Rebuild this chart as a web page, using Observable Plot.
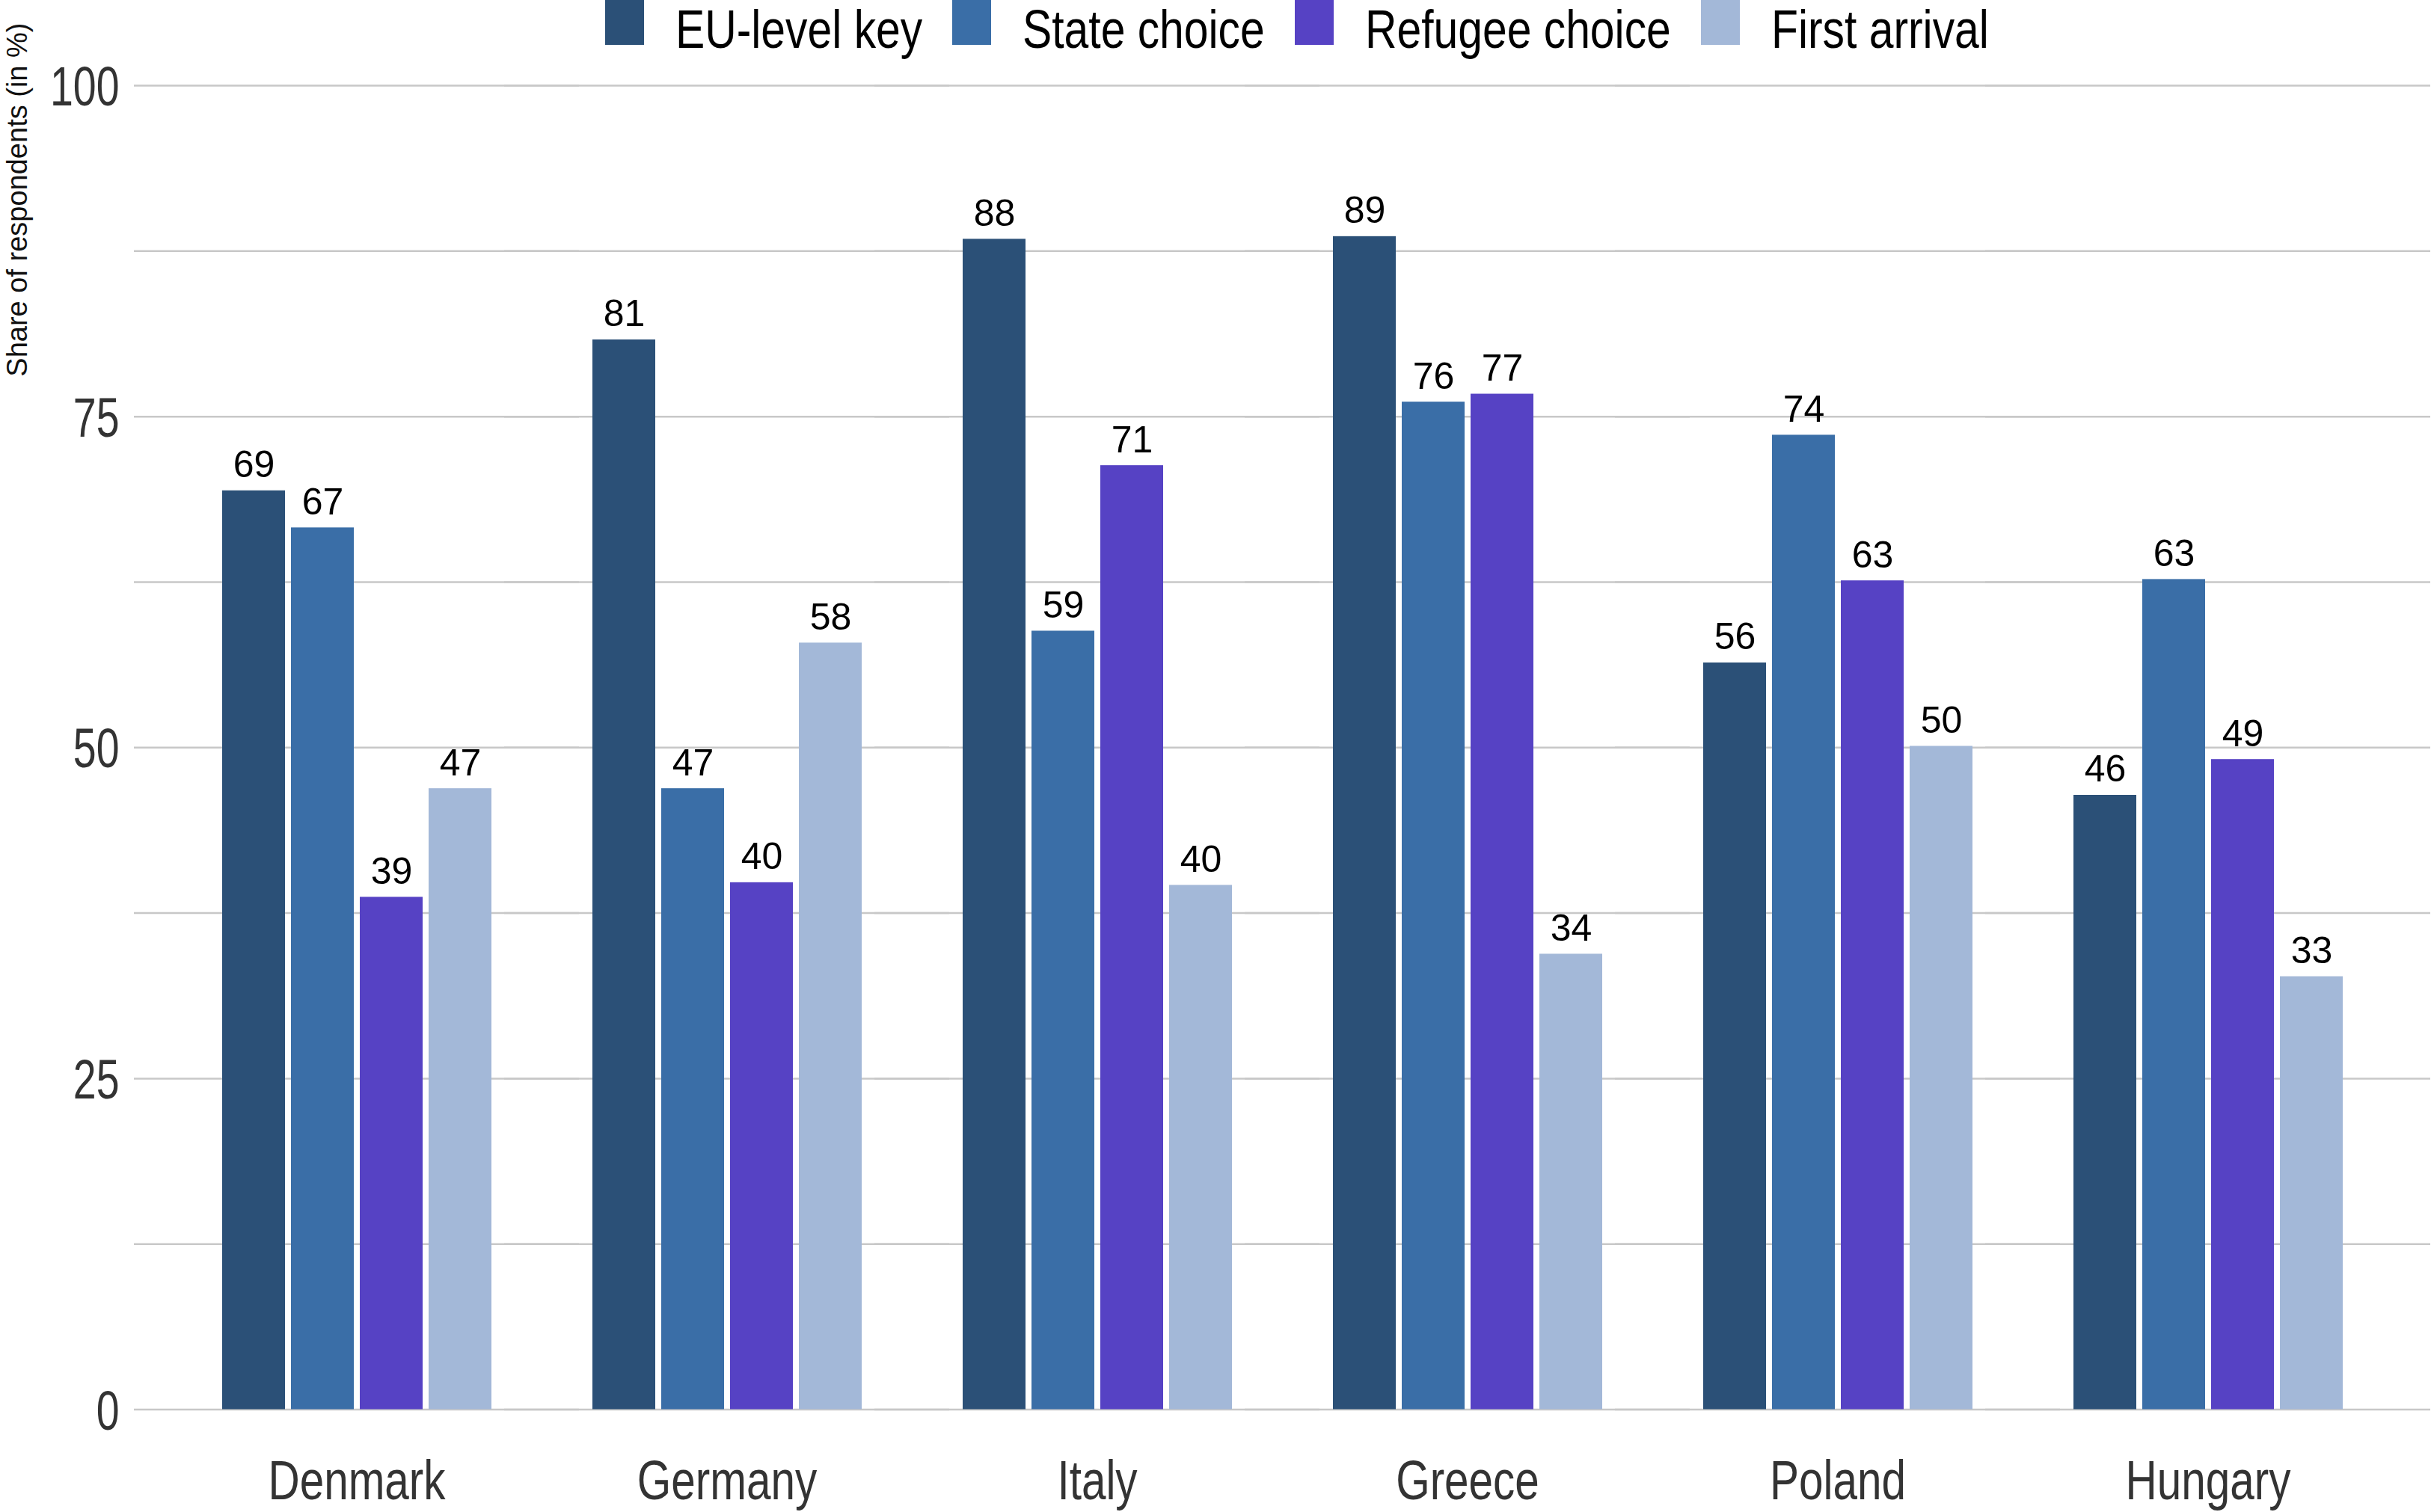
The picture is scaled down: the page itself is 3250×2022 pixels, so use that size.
<!DOCTYPE html>
<html>
<head>
<meta charset="utf-8">
<script src="https://cdn.jsdelivr.net/npm/d3@7"></script>
<script src="https://cdn.jsdelivr.net/npm/@observablehq/plot@0.6"></script>
<style>
  html, body { margin: 0; padding: 0; background: #fff; }
  #wrap { position: relative; width: 3250px; height: 2022px; overflow: hidden; }
  #legend { position: absolute; top: 0; left: 809px; display: flex; align-items: flex-start; gap: 40px; }
  .item { display: flex; align-items: flex-start; }
  .sw { width: 52px; height: 60px; margin-right: 42px; }
  .lab { display: inline-block; font-family: "Liberation Sans", Arial, sans-serif; font-size: 72px; line-height: 0.85; margin-top: 9px; color: #000; white-space: nowrap; transform-origin: 0 0; }
</style>
</head>
<body>
<div id="wrap">
  <div id="chart"></div>
  <div id="legend"></div>
</div>
<script>
const countries = ["Denmark", "Germany", "Italy", "Greece", "Poland", "Hungary"];
const series = ["EU-level key", "State choice", "Refugee choice", "First arrival"];
const euLevelKey    = [69.4, 80.8, 88.4, 88.6, 56.4, 46.4];
const stateChoice   = [66.6, 46.9, 58.8, 76.1, 73.6, 62.7];
const refugeeChoice = [38.7, 39.8, 71.3, 76.7, 62.6, 49.1];
const firstArrival  = [46.9, 57.9, 39.6, 34.4, 50.1, 32.7];
const seriesColors  = ["#2b5077", "#3a6ea7", "#5642c4", "#a3b8d8"];
const yTickLabels   = [0, 25, 50, 75, 100];
const gridValues    = [0, 12.5, 25, 37.5, 50, 62.5, 75, 87.5, 100];
const yLabel        = "Share of respondents (in %)";

const seriesValues = [euLevelKey, stateChoice, refugeeChoice, firstArrival];
const rows = [];
countries.forEach((c, i) => {
  series.forEach((s, j) => rows.push({country: c, series: s, value: seriesValues[j][i]}));
});

const firstFacet = () => countries[0];

const chart = Plot.plot({
  width: 3250,
  height: 2022,
  marginTop: 114,
  marginBottom: 137.5,
  marginLeft: 179,
  marginRight: 0,
  style: {fontFamily: '"Liberation Sans", Arial, sans-serif', background: "white", overflow: "visible"},
  fx: {domain: countries, paddingInner: 0.266, paddingOuter: 0.233, align: 0.5, label: null},
  x: {domain: series, paddingInner: 0.089, paddingOuter: 0, axis: null},
  y: {domain: [0, 100], axis: null},
  color: {domain: series, range: seriesColors},
  marks: [
    // grid lines, widened so that neighbouring facets join into one continuous line
    Plot.ruleY(gridValues, {y: d => d, stroke: "#c8c8c8", strokeWidth: 2.5, insetLeft: -116, insetRight: -116}),
    // y tick labels and title, drawn once in the first facet
    Plot.text(yTickLabels, {fx: firstFacet, y: d => d, text: d => String(d), frameAnchor: "left", textAnchor: "end", lineAnchor: "middle", dx: -136, dy: 3, fontSize: 74, fill: "#333", ariaDescription: "y-tick-labels"}),
    Plot.text([yLabel], {fx: firstFacet, text: d => d, frameAnchor: "top-left", rotate: -90, textAnchor: "end", lineAnchor: "middle", dx: -272, dy: -84, fontSize: 38, fill: "#111"}),
    Plot.barY(rows, {fx: "country", x: "series", y: "value", fill: "series"}),
    Plot.text(rows, {fx: "country", x: "series", y: "value", text: d => String(Math.round(d.value)), lineAnchor: "bottom", dy: -18, fontSize: 50, fill: "#000"}),
    Plot.axisFx({anchor: "bottom", tickSize: 0, tickPadding: 67, fontSize: 74, color: "#333", label: null})
  ]
});
document.getElementById("chart").appendChild(chart);

// narrow (condensed) lettering as in the reference
function condense(svg, selector, k) {
  svg.querySelectorAll(selector).forEach(el => {
    const t = el.getAttribute("transform") || "";
    const x = +(el.getAttribute("x") || 0);
    el.setAttribute("transform", `${t} translate(${x},0) scale(${k},1) translate(${-x},0)`);
  });
}
condense(chart, 'g[aria-description="y-tick-labels"] text', 0.75);
condense(chart, 'g[aria-label="fx-axis tick label"] text', 0.79);

const legend = document.getElementById("legend");
series.forEach((s, j) => {
  const item = document.createElement("div");
  item.className = "item";
  const sw = document.createElement("div");
  sw.className = "sw";
  sw.style.background = seriesColors[j];
  const lab = document.createElement("span");
  lab.className = "lab";
  lab.textContent = s;
  item.appendChild(sw);
  item.appendChild(lab);
  legend.appendChild(item);
  const k = 0.817;
  const w = lab.getBoundingClientRect().width;
  lab.style.transform = `scaleX(${k})`;
  lab.style.marginRight = `${-(1 - k) * w}px`;
});
</script>
</body>
</html>
